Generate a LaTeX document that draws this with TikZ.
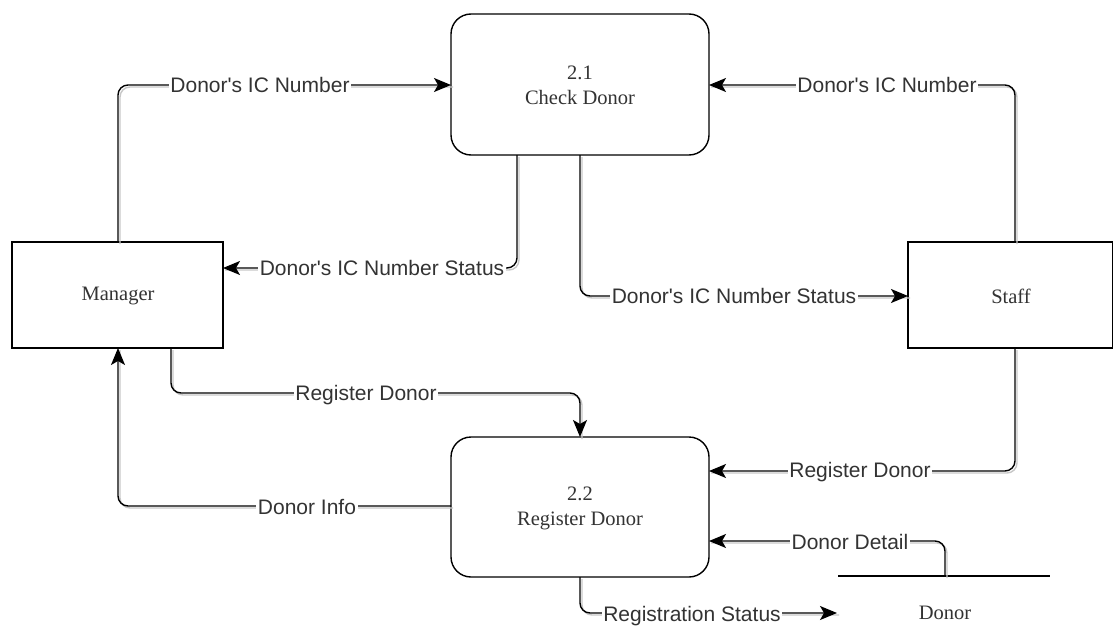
\documentclass[tikz,border=0pt]{standalone}
\usepackage{fontspec}
\setmainfont{Liberation Serif}
\newfontfamily\labelfont{Liberation Sans}
\usetikzlibrary{arrows.meta}
\begin{document}
\begin{tikzpicture}[x=1pt,y=-1pt,
  process/.style={draw=black, line width=1.4pt, rounded corners=20pt, fill=white},
  entity/.style={draw=black, line width=1.4pt, fill=white},
  boxtext/.style={text=black!80, align=center, font=\fontsize{20.5}{25}\selectfont},
  tip/.tip={Stealth[length=17pt,width=14pt,inset=4pt]},
  flow/.style={line width=1.4pt, rounded corners=10pt, -tip,
    preaction={draw=black!22, line width=1.4pt, -, transform canvas={shift={(2,2)}}}},
  lbl/.style={fill=white, inner sep=1.5pt, text=black!80,
    font=\labelfont\fontsize{21}{24}\selectfont}]
\useasboundingbox (0,0) rectangle (1114,642);

% processes
\draw[process] (451,14) rectangle (709,155);
\node[boxtext] (p1) at (580,85) {2.1\\Check Donor};
\draw[process] (451,437) rectangle (709,577);
\node[boxtext] (p2) at (580,508) {2.2\\Register Donor};

% external entities
\draw[entity] (12,242) rectangle (223,348);
\node[boxtext] (mgr) at (118,296) {Manager};
\draw[entity] (908,242) rectangle (1112.5,348);
\node[boxtext] (stf) at (1011,296) {Staff};

% data store
\coordinate (dsl) at (838,576);
\coordinate (dsr) at (1050,576);
\coordinate (dsup) at (945,576);
\draw[line width=1.4pt] (dsl) -- (dsr);
\node[boxtext] (ds) at (945,613) {Donor};

% anchor points on the boxes
\coordinate (mgrT) at (118,242);
\coordinate (mgrB) at (118,348);
\coordinate (mgrB2) at (171,348);
\coordinate (mgrR) at (223,268);
\coordinate (stfT) at (1015,242);
\coordinate (stfB) at (1015,348);
\coordinate (stfL) at (908,296);
\coordinate (p1L) at (451,85);
\coordinate (p1R) at (709,85);
\coordinate (p1B1) at (517,155);
\coordinate (p1B2) at (580,155);
\coordinate (p2T) at (580,437);
\coordinate (p2L) at (451,506);
\coordinate (p2R1) at (709,471);
\coordinate (p2R2) at (709,541);
\coordinate (p2B) at (580,577);
\coordinate (rsEnd) at (837,613);

% data flows
\draw[flow] (mgrT) |- (p1L);
\draw[flow] (stfT) |- (p1R);
\draw[flow] (p1B1) |- (mgrR);
\draw[flow] (p1B2) |- (stfL);
\draw[flow] (mgrB2) -- (171,393) -- (580,393) -- (p2T);
\draw[flow] (stfB) |- (p2R1);
\draw[flow] (p2L) -| (mgrB);
\draw[flow] (dsup) |- (p2R2);
\draw[flow] (p2B) |- (rsEnd);

% flow labels
\node[lbl] (l1) at (260,85) {Donor's IC Number};
\node[lbl] (l2) at (887,85) {Donor's IC Number};
\node[lbl] (l3) at (382,268) {Donor's IC Number Status};
\node[lbl] (l4) at (734,296) {Donor's IC Number Status};
\node[lbl] (l5) at (366,395) {Register Donor};
\node[lbl] (l6) at (860,472) {Register Donor};
\node[lbl] (l7) at (307,507) {Donor Info};
\node[lbl] (l8) at (850,542) {Donor Detail};
\node[lbl] (l9) at (692,616) {Registration Status};
\end{tikzpicture}
\end{document}
